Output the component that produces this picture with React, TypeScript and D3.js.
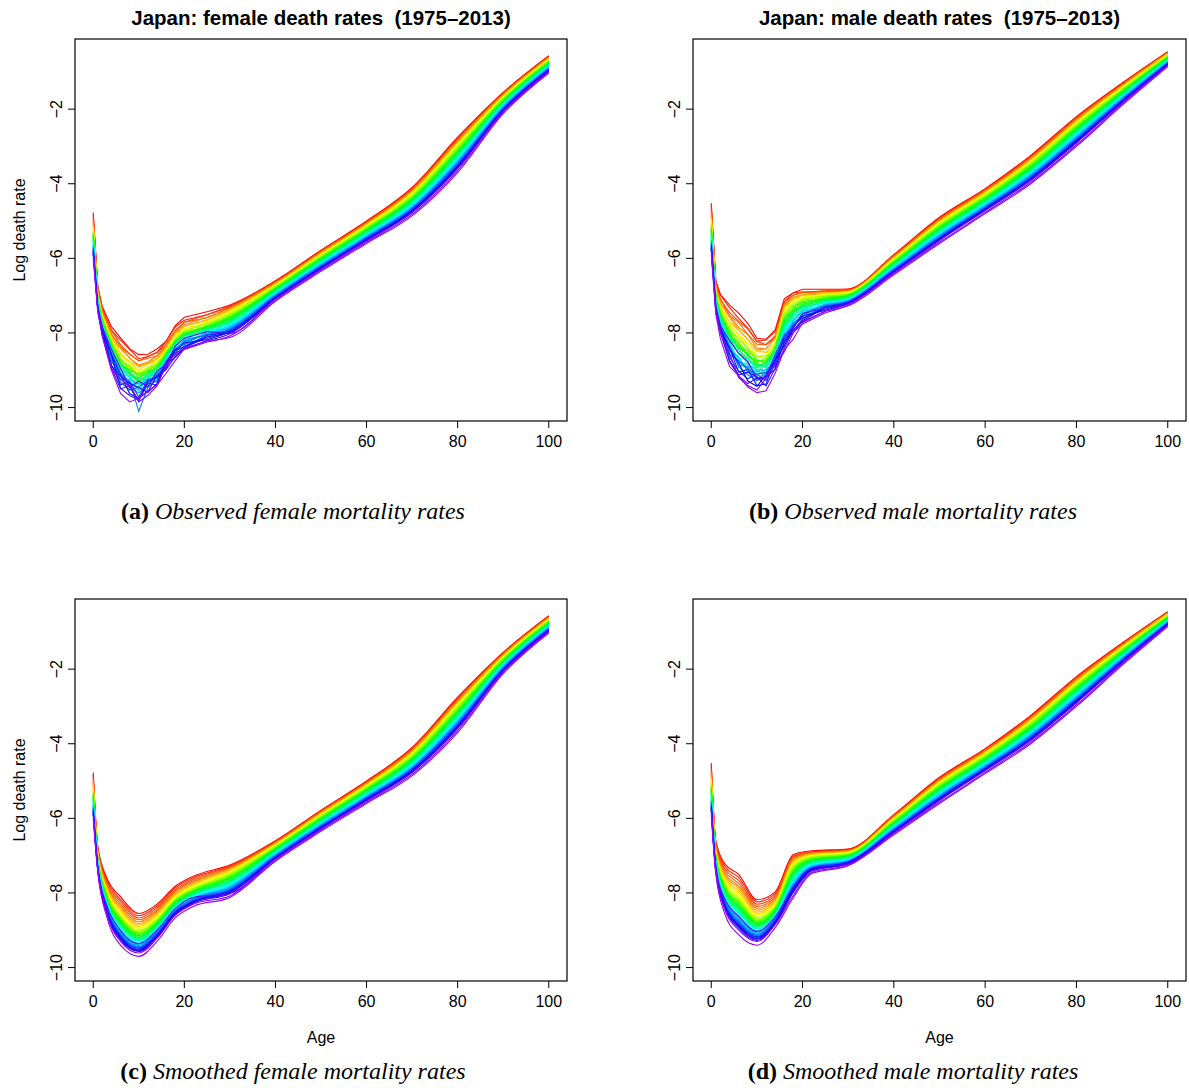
import * as d3 from "d3";
import React from "react";

// one curve per year, 1975..2013
const YEARS = d3.range(1975, 2014);
const SMOOTH_AGES = [0, 1, 3, 6, 10, 14, 18, 22, 30, 40, 50, 60, 70, 80, 90, 100];
const OBS_AGES = [0, 1, 2, 4, 6, 8, 10, 12, 14, 16, 18, 20, 25, 30, 40, 50, 60, 70, 80, 90, 100];
const X_TICKS = [0, 20, 40, 60, 80, 100];
const Y_TICKS = [-10, -8, -6, -4, -2];

// ---- female, smoothed log death rates (one array per age, years 1975..2013)
const fs0 = [-4.77,-4.83,-4.89,-4.95,-5.00,-5.05,-5.10,-5.14,-5.18,-5.21,
  -5.25,-5.27,-5.30,-5.32,-5.35,-5.37,-5.40,-5.42,-5.45,-5.47,
  -5.50,-5.52,-5.54,-5.57,-5.59,-5.62,-5.64,-5.67,-5.69,-5.72,
  -5.74,-5.77,-5.79,-5.82,-5.84,-5.86,-5.88,-5.90,-6.00];
const fs1 = [-6.75,-6.79,-6.82,-6.86,-6.88,-6.91,-6.94,-6.96,-6.98,-7.00,
  -7.02,-7.04,-7.05,-7.07,-7.08,-7.09,-7.11,-7.12,-7.14,-7.15,
  -7.16,-7.18,-7.19,-7.21,-7.22,-7.23,-7.25,-7.26,-7.28,-7.29,
  -7.30,-7.32,-7.33,-7.35,-7.36,-7.37,-7.38,-7.39,-7.45];
const fs3 = [-7.60,-7.65,-7.71,-7.76,-7.80,-7.84,-7.88,-7.92,-7.95,-7.98,
  -8.01,-8.03,-8.05,-8.07,-8.09,-8.12,-8.14,-8.16,-8.18,-8.20,
  -8.22,-8.24,-8.26,-8.28,-8.30,-8.33,-8.35,-8.37,-8.39,-8.41,
  -8.43,-8.45,-8.47,-8.49,-8.51,-8.54,-8.34,-8.57,-8.65];
const fs6 = [-8.10,-8.17,-8.23,-8.30,-8.35,-8.40,-8.45,-8.49,-8.53,-8.57,
  -8.61,-8.63,-8.66,-8.69,-8.71,-8.74,-8.76,-8.79,-8.82,-8.84,
  -8.87,-8.89,-8.92,-8.95,-8.97,-9.00,-9.02,-9.05,-9.08,-9.10,
  -9.13,-9.15,-9.18,-9.21,-9.23,-9.26,-9.01,-9.30,-9.40];
const fs10 = [-8.55,-8.61,-8.67,-8.72,-8.77,-8.82,-8.86,-8.90,-8.93,-8.96,
  -9.00,-9.02,-9.05,-9.07,-9.09,-9.11,-9.14,-9.16,-9.18,-9.21,
  -9.23,-9.25,-9.28,-9.30,-9.32,-9.34,-9.37,-9.39,-9.41,-9.44,
  -9.46,-9.48,-9.51,-9.53,-9.55,-9.57,-9.36,-9.61,-9.70];
const fs14 = [-8.30,-8.35,-8.40,-8.45,-8.49,-8.53,-8.57,-8.60,-8.63,-8.66,
  -8.69,-8.71,-8.73,-8.75,-8.77,-8.79,-8.81,-8.83,-8.85,-8.87,
  -8.89,-8.91,-8.93,-8.95,-8.97,-8.99,-9.01,-9.03,-9.05,-9.07,
  -9.09,-9.11,-9.13,-9.15,-9.17,-9.19,-9.00,-9.22,-9.30];
const fs18 = [-7.82,-7.86,-7.91,-7.95,-7.98,-8.02,-8.05,-8.08,-8.10,-8.13,
  -8.15,-8.17,-8.19,-8.20,-8.22,-8.24,-8.25,-8.27,-8.29,-8.31,
  -8.32,-8.34,-8.36,-8.37,-8.39,-8.41,-8.42,-8.44,-8.46,-8.48,
  -8.49,-8.51,-8.53,-8.54,-8.56,-8.58,-8.42,-8.60,-8.67];
const fs22 = [-7.55,-7.59,-7.63,-7.67,-7.70,-7.74,-7.77,-7.79,-7.82,-7.84,
  -7.87,-7.88,-7.90,-7.92,-7.93,-7.95,-7.96,-7.98,-8.00,-8.01,
  -8.03,-8.04,-8.06,-8.08,-8.09,-8.11,-8.13,-8.14,-8.16,-8.17,
  -8.19,-8.21,-8.22,-8.24,-8.26,-8.27,-8.12,-8.30,-8.36];
const fs30 = [-7.25,-7.28,-7.30,-7.32,-7.34,-7.36,-7.39,-7.41,-7.43,-7.45,
  -7.47,-7.49,-7.52,-7.54,-7.56,-7.58,-7.60,-7.62,-7.65,-7.67,
  -7.69,-7.71,-7.73,-7.76,-7.78,-7.80,-7.82,-7.84,-7.86,-7.89,
  -7.91,-7.93,-7.95,-7.97,-7.99,-8.02,-8.01,-8.08,-8.12];
const fs40 = [-6.60,-6.62,-6.63,-6.64,-6.66,-6.67,-6.69,-6.70,-6.71,-6.73,
  -6.74,-6.75,-6.77,-6.78,-6.80,-6.81,-6.82,-6.84,-6.85,-6.86,
  -6.88,-6.89,-6.91,-6.92,-6.93,-6.95,-6.96,-6.97,-6.99,-7.00,
  -7.02,-7.03,-7.04,-7.06,-7.07,-7.08,-7.08,-7.12,-7.15];
const fs50 = [-5.78,-5.80,-5.81,-5.83,-5.84,-5.85,-5.87,-5.88,-5.90,-5.91,
  -5.93,-5.94,-5.95,-5.97,-5.98,-6.00,-6.01,-6.03,-6.04,-6.05,
  -6.07,-6.08,-6.10,-6.11,-6.13,-6.14,-6.15,-6.17,-6.18,-6.20,
  -6.21,-6.23,-6.24,-6.25,-6.27,-6.28,-6.28,-6.32,-6.35];
const fs60 = [-5.00,-5.02,-5.03,-5.05,-5.06,-5.08,-5.09,-5.11,-5.12,-5.14,
  -5.15,-5.17,-5.18,-5.20,-5.21,-5.23,-5.24,-5.26,-5.27,-5.29,
  -5.30,-5.32,-5.33,-5.35,-5.36,-5.38,-5.39,-5.41,-5.42,-5.44,
  -5.45,-5.47,-5.48,-5.50,-5.51,-5.53,-5.52,-5.57,-5.60];
const fs70 = [-4.10,-4.12,-4.14,-4.16,-4.18,-4.20,-4.22,-4.24,-4.26,-4.28,
  -4.29,-4.31,-4.33,-4.35,-4.37,-4.39,-4.41,-4.43,-4.45,-4.47,
  -4.48,-4.50,-4.52,-4.54,-4.56,-4.58,-4.60,-4.62,-4.64,-4.66,
  -4.67,-4.69,-4.71,-4.73,-4.75,-4.77,-4.76,-4.82,-4.86];
const fs80 = [-2.75,-2.78,-2.80,-2.83,-2.85,-2.87,-2.90,-2.92,-2.95,-2.97,
  -2.99,-3.02,-3.04,-3.06,-3.09,-3.11,-3.14,-3.16,-3.18,-3.21,
  -3.23,-3.25,-3.28,-3.30,-3.33,-3.35,-3.37,-3.40,-3.42,-3.44,
  -3.47,-3.49,-3.52,-3.54,-3.56,-3.59,-3.58,-3.65,-3.70];
const fs90 = [-1.55,-1.57,-1.58,-1.60,-1.61,-1.62,-1.64,-1.65,-1.67,-1.68,
  -1.70,-1.71,-1.72,-1.74,-1.75,-1.77,-1.78,-1.80,-1.81,-1.82,
  -1.84,-1.85,-1.87,-1.88,-1.90,-1.91,-1.92,-1.94,-1.95,-1.97,
  -1.98,-2.00,-2.01,-2.02,-2.04,-2.05,-2.05,-2.09,-2.12];
const fs100 = [-0.57,-0.58,-0.60,-0.61,-0.62,-0.63,-0.64,-0.65,-0.66,-0.68,
  -0.69,-0.70,-0.71,-0.72,-0.73,-0.75,-0.76,-0.77,-0.78,-0.79,
  -0.80,-0.81,-0.83,-0.84,-0.85,-0.86,-0.87,-0.88,-0.89,-0.91,
  -0.92,-0.93,-0.94,-0.95,-0.96,-0.98,-0.97,-1.01,-1.03];

// ---- female, observed (childhood ages; older ages follow the smoothed values)
const fo2 = [-7.30,-7.36,-7.37,-7.43,-7.44,-7.50,-7.51,-7.55,-7.54,-7.61,
  -7.60,-7.65,-7.62,-7.68,-7.66,-7.71,-7.70,-7.75,-7.72,-7.79,
  -7.75,-7.82,-7.78,-7.85,-7.82,-7.88,-7.84,-7.91,-7.87,-7.95,
  -7.90,-7.98,-7.94,-8.02,-7.97,-8.05,-7.84,-8.07,-8.10];
const fo4 = [-7.83,-7.93,-7.93,-8.04,-8.02,-8.12,-8.10,-8.20,-8.17,-8.26,
  -8.23,-8.34,-8.24,-8.38,-8.28,-8.43,-8.33,-8.47,-8.37,-8.51,
  -8.41,-8.59,-8.41,-8.63,-8.45,-8.68,-8.50,-8.72,-8.54,-8.76,
  -8.58,-8.85,-8.57,-8.89,-8.61,-8.94,-8.44,-8.97,-9.00];
const fo6 = [-8.13,-8.19,-8.32,-8.38,-8.38,-8.43,-8.55,-8.59,-8.57,-8.61,
  -8.71,-8.76,-8.67,-8.70,-8.85,-8.87,-8.78,-8.81,-8.95,-8.98,
  -8.89,-8.87,-9.10,-9.13,-8.96,-8.98,-9.21,-9.24,-9.06,-9.09,
  -9.32,-9.39,-9.12,-9.15,-9.48,-9.50,-8.95,-9.24,-9.62];
const fo8 = [-8.42,-8.44,-8.56,-8.57,-8.68,-8.67,-8.78,-8.76,-8.86,-8.84,
  -8.94,-8.87,-9.02,-8.93,-9.07,-8.98,-9.12,-9.03,-9.18,-9.08,
  -9.23,-9.09,-9.32,-9.15,-9.37,-9.20,-9.42,-9.25,-9.48,-9.30,
  -9.53,-9.30,-9.63,-9.36,-9.68,-9.41,-9.46,-9.45,-9.85];
const fo10 = [-8.58,-8.69,-8.75,-8.75,-8.86,-8.91,-8.89,-8.99,-9.03,-9.00,
  -9.10,-9.15,-9.06,-9.20,-9.22,-9.13,-9.27,-9.30,-9.20,-9.34,
  -9.37,-9.23,-9.46,-9.48,-9.30,-9.53,-9.55,-9.38,-9.60,-10.10,
  -9.45,-9.72,-9.75,-9.47,-9.79,-9.82,-9.29,-9.85,-9.75];
const fo12 = [-8.57,-8.63,-8.63,-8.68,-8.78,-8.82,-8.80,-8.84,-8.93,-8.96,
  -8.93,-8.92,-9.06,-9.08,-8.98,-9.01,-9.15,-9.17,-9.07,-9.09,
  -9.23,-9.29,-9.11,-9.13,-9.35,-9.38,-9.20,-9.22,-9.44,-9.46,
  -9.28,-9.25,-9.57,-9.59,-9.31,-9.34,-9.44,-9.67,-9.55];
const fo14 = [-8.43,-8.52,-8.53,-8.61,-8.61,-8.69,-8.69,-8.76,-8.74,-8.81,
  -8.80,-8.88,-8.82,-8.92,-8.86,-8.96,-8.90,-8.99,-8.93,-9.03,
  -8.97,-9.10,-8.98,-9.14,-9.02,-9.18,-9.06,-9.21,-9.09,-9.25,
  -9.13,-9.32,-9.14,-9.36,-9.18,-9.40,-9.02,-9.42,-9.40];
const fo16 = [-8.22,-8.22,-8.30,-8.30,-8.37,-8.36,-8.44,-8.42,-8.48,-8.47,
  -8.53,-8.49,-8.58,-8.52,-8.62,-8.55,-8.65,-8.58,-8.68,-8.62,
  -8.71,-8.63,-8.76,-8.66,-8.80,-8.69,-8.83,-8.72,-8.86,-8.76,
  -8.89,-8.77,-8.94,-8.80,-8.98,-8.83,-8.84,-8.86,-9.08];
const fo18 = [-7.80,-7.84,-7.93,-7.97,-7.96,-8.00,-8.07,-8.10,-8.08,-8.11,
  -8.17,-8.20,-8.16,-8.17,-8.25,-8.27,-8.22,-8.24,-8.32,-8.34,
  -8.29,-8.29,-8.41,-8.42,-8.34,-8.36,-8.47,-8.49,-8.41,-8.43,
  -8.54,-8.58,-8.46,-8.47,-8.63,-8.65,-8.35,-8.53,-8.74];
const fo20 = [-7.58,-7.66,-7.71,-7.71,-7.78,-7.82,-7.81,-7.88,-7.90,-7.89,
  -7.95,-7.98,-7.94,-8.01,-8.03,-7.99,-8.06,-8.08,-8.04,-8.12,
  -8.13,-8.07,-8.19,-8.20,-8.12,-8.24,-8.25,-8.17,-8.29,-8.31,
  -8.22,-8.35,-8.37,-8.26,-8.40,-8.42,-8.14,-8.44,-8.42];
const fo25 = [-7.43,-7.51,-7.51,-7.59,-7.58,-7.65,-7.65,-7.71,-7.69,-7.76,
  -7.74,-7.81,-7.76,-7.84,-7.80,-7.87,-7.83,-7.90,-7.86,-7.94,
  -7.89,-7.98,-7.91,-8.01,-7.95,-8.04,-7.98,-8.07,-8.01,-8.11,
  -8.04,-8.15,-8.06,-8.18,-8.10,-8.21,-7.96,-8.24,-8.20];

// ---- male, smoothed
const ms0 = [-4.52,-4.59,-4.66,-4.73,-4.78,-4.84,-4.89,-4.93,-4.98,-5.02,
  -5.06,-5.09,-5.11,-5.14,-5.17,-5.20,-5.22,-5.25,-5.28,-5.31,
  -5.33,-5.36,-5.39,-5.42,-5.45,-5.47,-5.50,-5.53,-5.56,-5.58,
  -5.61,-5.64,-5.67,-5.69,-5.72,-5.75,-5.76,-5.79,-5.90];
const ms1 = [-6.60,-6.65,-6.69,-6.74,-6.77,-6.81,-6.84,-6.87,-6.90,-6.92,
  -6.95,-6.97,-6.99,-7.01,-7.02,-7.04,-7.06,-7.08,-7.10,-7.11,
  -7.13,-7.15,-7.17,-7.19,-7.20,-7.22,-7.24,-7.26,-7.28,-7.29,
  -7.31,-7.33,-7.35,-7.37,-7.38,-7.40,-7.41,-7.43,-7.50];
const ms3 = [-7.22,-7.29,-7.36,-7.42,-7.48,-7.53,-7.59,-7.63,-7.67,-7.71,
  -7.75,-7.77,-7.80,-7.83,-7.86,-7.88,-7.91,-7.94,-7.96,-7.99,
  -8.02,-8.04,-8.07,-8.10,-8.13,-8.15,-8.18,-8.21,-8.23,-8.26,
  -8.29,-8.31,-8.34,-8.37,-8.40,-8.42,-8.17,-8.46,-8.57];
const ms6 = [-7.50,-7.58,-7.66,-7.74,-7.81,-7.87,-7.94,-7.99,-8.04,-8.08,
  -8.13,-8.16,-8.20,-8.23,-8.26,-8.29,-8.33,-8.36,-8.39,-8.42,
  -8.46,-8.49,-8.52,-8.55,-8.59,-8.62,-8.65,-8.68,-8.72,-8.75,
  -8.78,-8.81,-8.85,-8.88,-8.91,-8.94,-8.63,-8.99,-9.12];
const ms10 = [-8.18,-8.24,-8.30,-8.36,-8.41,-8.46,-8.51,-8.55,-8.58,-8.62,
  -8.66,-8.68,-8.71,-8.73,-8.75,-8.78,-8.80,-8.83,-8.85,-8.88,
  -8.90,-8.92,-8.95,-8.97,-9.00,-9.02,-9.05,-9.07,-9.10,-9.12,
  -9.14,-9.17,-9.19,-9.22,-9.24,-9.27,-9.03,-9.30,-9.40];
const ms14 = [-7.97,-8.02,-8.07,-8.11,-8.15,-8.19,-8.23,-8.26,-8.29,-8.32,
  -8.34,-8.36,-8.38,-8.40,-8.42,-8.44,-8.46,-8.48,-8.50,-8.52,
  -8.54,-8.56,-8.58,-8.59,-8.61,-8.63,-8.65,-8.67,-8.69,-8.71,
  -8.73,-8.75,-8.77,-8.79,-8.81,-8.82,-8.64,-8.85,-8.93];
const ms18 = [-6.97,-7.01,-7.03,-7.06,-7.09,-7.12,-7.15,-7.18,-7.21,-7.24,
  -7.26,-7.29,-7.32,-7.35,-7.38,-7.41,-7.44,-7.47,-7.49,-7.52,
  -7.55,-7.58,-7.61,-7.64,-7.67,-7.70,-7.72,-7.75,-7.78,-7.81,
  -7.84,-7.87,-7.90,-7.93,-7.95,-7.98,-7.83,-8.06,-8.12];
const ms22 = [-6.87,-6.89,-6.90,-6.92,-6.93,-6.95,-6.97,-6.98,-7.00,-7.01,
  -7.03,-7.04,-7.06,-7.07,-7.09,-7.10,-7.12,-7.13,-7.15,-7.16,
  -7.18,-7.19,-7.21,-7.22,-7.24,-7.25,-7.27,-7.29,-7.30,-7.32,
  -7.33,-7.35,-7.36,-7.38,-7.39,-7.41,-7.33,-7.45,-7.48];
const ms30 = [-6.82,-6.83,-6.85,-6.86,-6.87,-6.88,-6.89,-6.90,-6.91,-6.92,
  -6.94,-6.95,-6.96,-6.97,-6.98,-6.99,-7.00,-7.01,-7.03,-7.04,
  -7.05,-7.06,-7.07,-7.08,-7.09,-7.10,-7.12,-7.13,-7.14,-7.15,
  -7.16,-7.17,-7.18,-7.19,-7.21,-7.22,-7.21,-7.25,-7.27];
const ms40 = [-5.90,-5.92,-5.93,-5.94,-5.96,-5.97,-5.98,-6.00,-6.01,-6.02,
  -6.04,-6.05,-6.07,-6.08,-6.09,-6.11,-6.12,-6.13,-6.15,-6.16,
  -6.17,-6.19,-6.20,-6.21,-6.23,-6.24,-6.25,-6.27,-6.28,-6.29,
  -6.31,-6.32,-6.34,-6.35,-6.36,-6.38,-6.37,-6.41,-6.44];
const ms50 = [-4.90,-4.92,-4.94,-4.96,-4.97,-4.99,-5.01,-5.03,-5.04,-5.06,
  -5.08,-5.10,-5.11,-5.13,-5.15,-5.17,-5.18,-5.20,-5.22,-5.24,
  -5.25,-5.27,-5.29,-5.31,-5.32,-5.34,-5.36,-5.38,-5.39,-5.41,
  -5.43,-5.45,-5.46,-5.48,-5.50,-5.52,-5.51,-5.57,-5.60];
const ms60 = [-4.13,-4.15,-4.17,-4.18,-4.20,-4.22,-4.23,-4.25,-4.27,-4.28,
  -4.30,-4.32,-4.33,-4.35,-4.37,-4.39,-4.40,-4.42,-4.44,-4.45,
  -4.47,-4.49,-4.50,-4.52,-4.54,-4.55,-4.57,-4.59,-4.60,-4.62,
  -4.64,-4.65,-4.67,-4.69,-4.70,-4.72,-4.71,-4.77,-4.80];
const ms70 = [-3.24,-3.26,-3.28,-3.30,-3.32,-3.34,-3.36,-3.38,-3.40,-3.42,
  -3.43,-3.45,-3.47,-3.49,-3.51,-3.53,-3.55,-3.57,-3.59,-3.61,
  -3.62,-3.64,-3.66,-3.68,-3.70,-3.72,-3.74,-3.76,-3.78,-3.80,
  -3.81,-3.83,-3.85,-3.87,-3.89,-3.91,-3.90,-3.96,-4.00];
const ms80 = [-2.20,-2.22,-2.24,-2.26,-2.28,-2.30,-2.32,-2.34,-2.36,-2.38,
  -2.40,-2.42,-2.44,-2.46,-2.48,-2.50,-2.52,-2.54,-2.56,-2.58,
  -2.60,-2.62,-2.64,-2.66,-2.68,-2.70,-2.72,-2.74,-2.76,-2.78,
  -2.80,-2.82,-2.84,-2.86,-2.88,-2.90,-2.90,-2.96,-3.00];
const ms90 = [-1.30,-1.32,-1.33,-1.35,-1.36,-1.38,-1.39,-1.41,-1.42,-1.44,
  -1.45,-1.47,-1.48,-1.50,-1.51,-1.53,-1.54,-1.56,-1.57,-1.59,
  -1.60,-1.62,-1.63,-1.65,-1.66,-1.68,-1.69,-1.71,-1.72,-1.74,
  -1.75,-1.77,-1.78,-1.80,-1.81,-1.83,-1.82,-1.87,-1.90];
const ms100 = [-0.46,-0.47,-0.48,-0.49,-0.50,-0.51,-0.52,-0.53,-0.54,-0.55,
  -0.56,-0.57,-0.58,-0.59,-0.60,-0.61,-0.62,-0.63,-0.64,-0.65,
  -0.66,-0.67,-0.68,-0.69,-0.70,-0.71,-0.72,-0.73,-0.74,-0.75,
  -0.76,-0.77,-0.78,-0.79,-0.80,-0.81,-0.81,-0.84,-0.86];

// ---- male, observed (childhood ages)
const mo2 = [-6.97,-6.99,-7.10,-7.09,-7.20,-7.19,-7.29,-7.27,-7.36,-7.33,
  -7.43,-7.39,-7.48,-7.44,-7.52,-7.48,-7.58,-7.52,-7.62,-7.57,
  -7.67,-7.61,-7.72,-7.66,-7.76,-7.70,-7.81,-7.75,-7.85,-7.80,
  -7.90,-7.83,-7.96,-7.88,-8.00,-7.92,-7.80,-7.96,-8.15];
const mo4 = [-7.25,-7.32,-7.45,-7.53,-7.53,-7.59,-7.71,-7.76,-7.75,-7.79,
  -7.90,-7.96,-7.87,-7.90,-8.05,-8.08,-7.99,-8.02,-8.17,-8.20,
  -8.11,-8.10,-8.33,-8.37,-8.20,-8.23,-8.46,-8.49,-8.32,-8.35,
  -8.58,-8.65,-8.40,-8.43,-8.74,-8.77,-8.20,-8.54,-8.90];
const mo6 = [-7.47,-7.61,-7.69,-7.72,-7.85,-7.91,-7.92,-8.03,-8.08,-8.08,
  -8.19,-8.25,-8.17,-8.32,-8.35,-8.27,-8.42,-8.46,-8.37,-8.53,
  -8.56,-8.43,-8.67,-8.70,-8.54,-8.77,-8.80,-8.64,-8.87,-8.91,
  -8.74,-9.02,-9.05,-8.80,-9.12,-9.15,-8.55,-9.20,-9.15];
const mo8 = [-7.74,-7.87,-7.89,-8.04,-8.04,-8.17,-8.17,-8.28,-8.27,-8.38,
  -8.37,-8.49,-8.41,-8.56,-8.47,-8.62,-8.54,-8.69,-8.60,-8.76,
  -8.67,-8.86,-8.69,-8.93,-8.76,-8.99,-8.82,-9.06,-8.89,-9.12,
  -8.96,-9.23,-8.98,-9.29,-9.05,-9.36,-8.77,-9.41,-9.45];
const mo10 = [-8.14,-8.22,-8.23,-8.30,-8.41,-8.47,-8.46,-8.50,-8.61,-8.65,
  -8.63,-8.63,-8.77,-8.80,-8.71,-8.74,-8.88,-8.91,-8.82,-8.85,
  -8.99,-9.06,-8.89,-8.92,-9.15,-9.17,-9.00,-9.03,-9.26,-9.28,
  -9.11,-9.10,-9.41,-9.43,-9.18,-9.21,-9.23,-9.53,-9.60];
const mo12 = [-8.17,-8.19,-8.31,-8.32,-8.43,-8.42,-8.53,-8.51,-8.61,-8.59,
  -8.69,-8.62,-8.77,-8.68,-8.82,-8.73,-8.87,-8.78,-8.93,-8.83,
  -8.98,-8.84,-9.07,-8.90,-9.12,-8.95,-9.17,-9.00,-9.23,-9.05,
  -9.28,-9.06,-9.37,-9.12,-9.42,-9.17,-9.20,-9.21,-9.55];
const mo14 = [-7.92,-7.96,-8.08,-8.13,-8.11,-8.15,-8.25,-8.29,-8.26,-8.29,
  -8.38,-8.42,-8.34,-8.36,-8.48,-8.51,-8.43,-8.45,-8.57,-8.59,
  -8.51,-8.50,-8.68,-8.70,-8.56,-8.59,-8.77,-8.79,-8.65,-8.67,
  -8.85,-8.89,-8.71,-8.73,-8.95,-8.98,-8.58,-8.81,-9.08];
const mo16 = [-7.08,-7.16,-7.16,-7.23,-7.23,-7.30,-7.30,-7.37,-7.37,-7.44,
  -7.44,-7.53,-7.49,-7.60,-7.56,-7.67,-7.63,-7.74,-7.70,-7.81,
  -7.77,-7.90,-7.82,-7.97,-7.89,-8.04,-7.96,-8.11,-8.03,-8.18,
  -8.10,-8.27,-8.15,-8.34,-8.22,-8.41,-8.07,-8.51,-8.45];
const mo18 = [-6.92,-6.92,-6.99,-6.98,-7.05,-7.04,-7.11,-7.10,-7.17,-7.16,
  -7.23,-7.21,-7.30,-7.27,-7.36,-7.33,-7.42,-7.39,-7.48,-7.45,
  -7.54,-7.49,-7.62,-7.55,-7.68,-7.61,-7.74,-7.67,-7.80,-7.73,
  -7.86,-7.78,-7.93,-7.84,-7.99,-7.90,-7.86,-7.98,-8.16];
const mo20 = [-6.83,-6.90,-6.92,-6.90,-6.97,-6.99,-6.97,-7.03,-7.06,-7.04,
  -7.10,-7.13,-7.10,-7.18,-7.20,-7.16,-7.25,-7.27,-7.23,-7.31,
  -7.34,-7.29,-7.39,-7.41,-7.36,-7.46,-7.48,-7.42,-7.53,-7.55,
  -7.49,-7.60,-7.63,-7.55,-7.67,-7.69,-7.48,-7.76,-7.72];
const mo25 = [-6.83,-6.89,-6.86,-6.92,-6.89,-6.95,-6.92,-6.98,-6.95,-7.01,
  -6.98,-7.04,-7.01,-7.07,-7.04,-7.10,-7.07,-7.13,-7.10,-7.16,
  -7.13,-7.20,-7.15,-7.23,-7.18,-7.26,-7.21,-7.29,-7.24,-7.32,
  -7.27,-7.36,-7.29,-7.39,-7.32,-7.42,-7.33,-7.46,-7.41];

const femaleSmooth = [fs0, fs1, fs3, fs6, fs10, fs14, fs18, fs22, fs30, fs40, fs50, fs60, fs70, fs80, fs90, fs100];
const femaleObs = [fs0, fs1, fo2, fo4, fo6, fo8, fo10, fo12, fo14, fo16, fo18, fo20, fo25,
  fs30, fs40, fs50, fs60, fs70, fs80, fs90, fs100];
const maleSmooth = [ms0, ms1, ms3, ms6, ms10, ms14, ms18, ms22, ms30, ms40, ms50, ms60, ms70, ms80, ms90, ms100];
const maleObs = [ms0, ms1, mo2, mo4, mo6, mo8, mo10, mo12, mo14, mo16, mo18, mo20, mo25,
  ms30, ms40, ms50, ms60, ms70, ms80, ms90, ms100];

const sans = "'Liberation Sans', Arial, Helvetica, sans-serif";
const serif = "'Liberation Serif', 'Times New Roman', serif";

const yearColor = (i: number) => d3.hsl((i / (YEARS.length - 1)) * 277, 1, 0.5).toString();

function Panel({ left, top, width, height, ages, cols, smooth, title, yLabel, xLabel }) {
  const x = d3.scaleLinear().domain([-4, 104]).range([left, left + width]);
  const y = d3.scaleLinear().domain([-10.36, -0.12]).range([top + height, top]);
  const mkLine = (curve) =>
    d3
      .line<[number, number]>()
      .defined((d) => d[1] != null)
      .x((d) => x(d[0]))
      .y((d) => y(d[1]))
      .curve(curve);
  const smoothLine = mkLine(d3.curveMonotoneX);
  const rawLine = mkLine(d3.curveLinear);
  const cx = left + width / 2;
  const cy = top + height / 2;

  return (
    <g>
      {title && (
        <text x={cx} y={top - 14} textAnchor="middle" fontFamily={sans} fontWeight="bold" fontSize={20.5}
          style={{ whiteSpace: "pre" }}>
          {title}
        </text>
      )}
      {YEARS.map((yr, i) => {
        const pts = ages.map((a, k) => [a, cols[k][i]] as [number, number]);
        if (smooth) {
          return <path key={yr} d={smoothLine(pts) || ""} fill="none" stroke={yearColor(i)} strokeWidth={1.1} />;
        }
        // observed: jagged childhood segment, adult ages through the spline
        const young = pts.filter((p) => p[0] <= 25);
        const old = pts.filter((p) => p[0] >= 25);
        return (
          <g key={yr}>
            <path d={rawLine(young) || ""} fill="none" stroke={yearColor(i)} strokeWidth={1.1} />
            <path d={smoothLine(old) || ""} fill="none" stroke={yearColor(i)} strokeWidth={1.1} />
          </g>
        );
      })}
      <rect x={left} y={top} width={width} height={height} fill="none" stroke="#000" strokeWidth={1.2} />
      {X_TICKS.map((t) => (
        <g key={t}>
          <line x1={x(t)} x2={x(t)} y1={top + height} y2={top + height + 7} stroke="#000" />
          <text x={x(t)} y={top + height + 26} textAnchor="middle" fontFamily={sans} fontSize={16}>
            {t}
          </text>
        </g>
      ))}
      {Y_TICKS.map((t) => (
        <g key={t}>
          <line x1={left - 7} x2={left} y1={y(t)} y2={y(t)} stroke="#000" />
          <text
            transform={`translate(${left - 13},${y(t)}) rotate(-90)`}
            textAnchor="middle"
            fontFamily={sans}
            fontSize={16}
          >
            {String(t).replace("-", "\u2212")}
          </text>
        </g>
      ))}
      {yLabel && (
        <text transform={`translate(25,${cy}) rotate(-90)`} textAnchor="middle" fontFamily={sans} fontSize={16}>
          {yLabel}
        </text>
      )}
      {xLabel && (
        <text x={cx} y={top + height + 62} textAnchor="middle" fontFamily={sans} fontSize={16}>
          {xLabel}
        </text>
      )}
    </g>
  );
}

function Caption({ x, y, tag, text }) {
  return (
    <text x={x} y={y} textAnchor="middle" fontFamily={serif} fontSize={24}>
      <tspan fontWeight="bold">{tag}</tspan>
      <tspan fontStyle="italic">{" " + text}</tspan>
    </text>
  );
}

export default function App() {
  const W = 1189;
  const H = 1088;
  return (
    <div style={{ position: "absolute", left: 0, top: 0 }}>
      <svg width={W} height={H} style={{ display: "block", background: "#fff" }}>
        <Panel left={75} top={39} width={492} height={382} ages={OBS_AGES} cols={femaleObs} smooth={false}
          title={"Japan: female death rates  (1975\u20132013)"} yLabel="Log death rate" xLabel={null} />
        <Panel left={693} top={39} width={493} height={382} ages={OBS_AGES} cols={maleObs} smooth={false}
          title={"Japan: male death rates  (1975\u20132013)"} yLabel={null} xLabel={null} />
        <Panel left={75} top={599} width={492} height={382} ages={SMOOTH_AGES} cols={femaleSmooth} smooth={true}
          title={null} yLabel="Log death rate" xLabel="Age" />
        <Panel left={693} top={599} width={493} height={382} ages={SMOOTH_AGES} cols={maleSmooth} smooth={true}
          title={null} yLabel={null} xLabel="Age" />
        <Caption x={293} y={519} tag="(a)" text="Observed female mortality rates" />
        <Caption x={913} y={519} tag="(b)" text="Observed male mortality rates" />
        <Caption x={293} y={1079} tag="(c)" text="Smoothed female mortality rates" />
        <Caption x={913} y={1079} tag="(d)" text="Smoothed male mortality rates" />
      </svg>
    </div>
  );
}
